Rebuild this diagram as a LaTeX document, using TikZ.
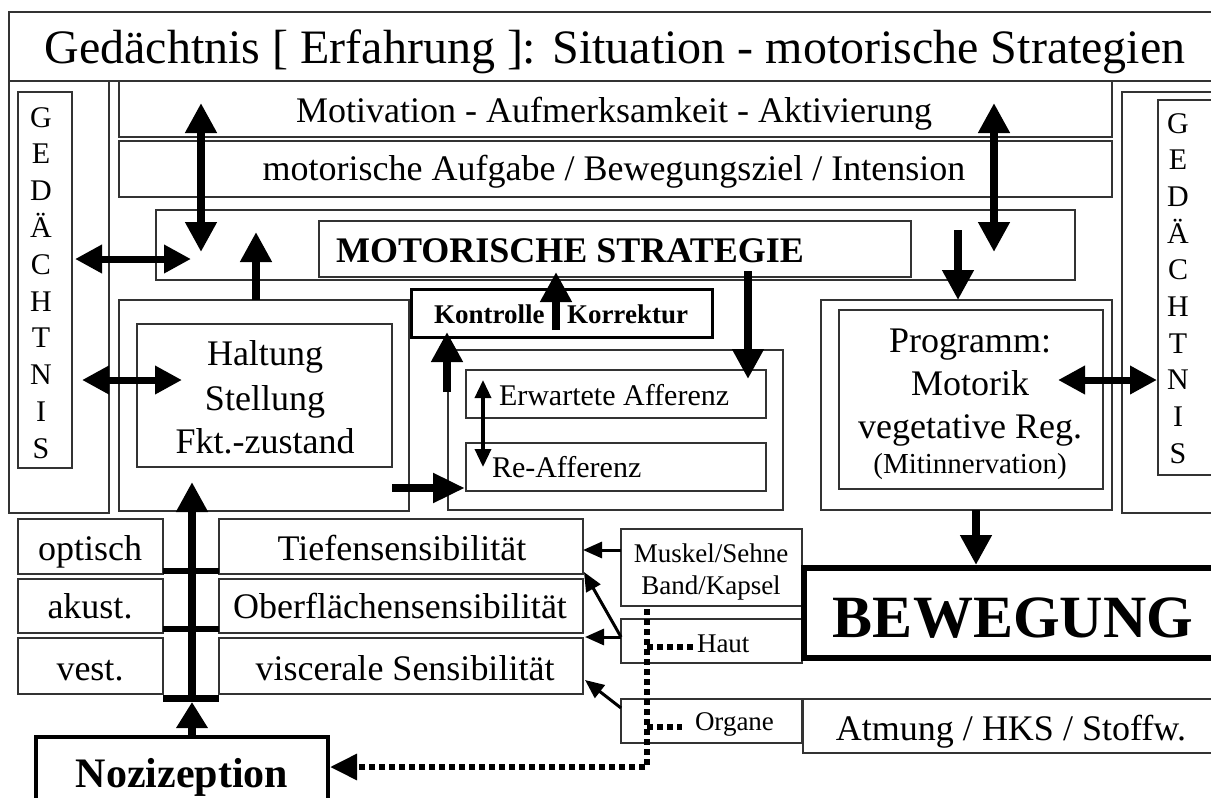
\documentclass[tikz,border=0pt]{standalone}
\usepackage{fontspec}
\setmainfont{Liberation Serif}
\usetikzlibrary{arrows.meta}
\newcommand{\myrect}[6][]{\node[box,anchor=north west,minimum width={#4pt-#2pt},minimum height={#5pt-#3pt},#1] (#6) at (#2,#3) {};}
\begin{document}
\begin{tikzpicture}[x=1pt,y=-1pt,
  box/.style={draw=black!80, line width=1.2pt, inner sep=0pt, outer sep=0pt},
  txt/.style={inner sep=0pt, outer sep=0pt, anchor=base, text=black, font=\fontsize{36}{36}\selectfont},
  big/.style={line width=8pt, -{Triangle[width=30pt,length=30pt]}},
  bigboth/.style={line width=8pt, {Triangle[width=30pt,length=30pt]}-{Triangle[width=30pt,length=30pt]}},
  hboth/.style={line width=7pt, {Triangle[width=27pt,length=27pt]}-{Triangle[width=27pt,length=27pt]}},
  medarr/.style={line width=3pt, -{Triangle[width=16pt,length=19pt]}},
  medboth/.style={line width=3.5pt, {Triangle[width=16pt,length=18pt]}-{Triangle[width=16pt,length=18pt]}},
  bar/.style={line width=6pt},
  dotline/.style={line width=6pt, dash pattern=on 6pt off 4pt}
]
\fill[white] (0,0) rectangle (1211,798);
\useasboundingbox (0,0) rectangle (1211,798);
\clip (0,0) rectangle (1211,798);

% ---------- boxes ----------
\myrect{9}{12}{1225}{81}{title}
\myrect{9}{81}{109}{513}{gedLo}
\myrect{18}{92}{72}{468}{gedL}
\myrect{119}{81}{1112}{137}{motiv}
\myrect{119}{141}{1112}{197}{aufg}
\myrect{156}{210}{1075}{280}{stratO}
\myrect{319}{221}{911}{277}{strat}
\myrect{119}{300}{409}{511}{haltO}
\myrect{137}{324}{392}{467}{halt}
\myrect{448}{350}{783}{510}{affO}
\myrect{466}{370}{766}{418}{erw}
\myrect{466}{443}{766}{491}{reaff}
\myrect[draw=black,line width=3pt]{411}{289}{712}{337}{kontr}
\myrect{821}{300}{1112}{510}{progO}
\myrect{839}{310}{1103}{489}{prog}
\myrect{1122}{92}{1225}{513}{gedRo}
\myrect{1158}{100}{1225}{475}{gedR}
\myrect{18}{519}{163}{574}{opt}
\myrect{18}{579}{163}{633}{aku}
\myrect{18}{638}{163}{694}{ves}
\myrect{219}{519}{583}{574}{tief}
\myrect{219}{579}{583}{633}{ober}
\myrect{219}{638}{583}{694}{visc}
\myrect{621}{529}{802}{606}{musk}
\myrect{621}{619}{802}{663}{haut}
\myrect{621}{699}{802}{743}{organ}
\myrect[draw=black,line width=5.5pt]{804}{568}{1230}{658}{beweg}
\myrect{803}{699}{1225}{753}{atm}
\myrect[draw=black,line width=4.5pt]{36}{737}{328}{830}{noz}

% ---------- texts ----------
\node[txt,font=\fontsize{48}{48}\selectfont] (tTitle) at (615,63) {Gedächtnis [ Erfahrung ]: Situation - motorische Strategien};
\node[txt] (tMotiv) at (614,122) {Motivation - Aufmerksamkeit - Aktivierung};
\node[txt] (tAufg) at (614,180) {motorische Aufgabe / Bewegungsziel / Intension};
\node[txt,font=\fontsize{36}{36}\bfseries\selectfont] (tStrat) at (570,262) {MOTORISCHE STRATEGIE};
\node[txt] (tHalt1) at (265,365) {Haltung};
\node[txt] (tHalt2) at (265,410) {Stellung};
\node[txt] (tHalt3) at (265,453) {Fkt.-zustand};
\node[txt,font=\fontsize{27}{27}\bfseries\selectfont] (tKontr) at (561,323) {Kontrolle - Korrektur};
\node[txt,anchor=base west,font=\fontsize{30}{30}\selectfont] (tErw) at (499,405) {Erwartete Afferenz};
\node[txt,anchor=base west,font=\fontsize{30}{30}\selectfont] (tReaff) at (492,477) {Re-Afferenz};
\node[txt] (tProg1) at (970,352) {Programm:};
\node[txt] (tProg2) at (970,395) {Motorik};
\node[txt] (tProg3) at (970,438) {vegetative Reg.};
\node[txt,font=\fontsize{29}{29}\selectfont] (tProg4) at (970,473) {(Mitinnervation)};
\foreach \ch [count=\i] in {G,E,D,Ä,C,H,T,N,I,S} {
  \node[txt,font=\fontsize{30}{30}\selectfont] (gl\i) at (41,{127+36.8*(\i-1)}) {\ch};
  \node[txt,font=\fontsize{30}{30}\selectfont] (gr\i) at (1178,{133+36.7*(\i-1)}) {\ch};
}
\node[txt] (tOpt) at (90,560) {optisch};
\node[txt] (tAku) at (90,618) {akust.};
\node[txt] (tVes) at (90,680) {vest.};
\node[txt] (tTief) at (402,560) {Tiefensensibilität};
\node[txt] (tOber) at (400,618) {Oberflächensensibilität};
\node[txt] (tVisc) at (405,680) {viscerale Sensibilität};
\node[txt,font=\fontsize{27}{27}\selectfont] (tMusk1) at (711,562) {Muskel/Sehne};
\node[txt,font=\fontsize{27}{27}\selectfont] (tMusk2) at (711,594) {Band/Kapsel};
\node[txt,anchor=base west,font=\fontsize{27}{27}\selectfont] (tHaut) at (697,652) {Haut};
\node[txt,anchor=base west,font=\fontsize{27}{27}\selectfont] (tOrgan) at (695,730) {Organe};
\node[txt,font=\fontsize{60}{60}\bfseries\selectfont] (tBeweg) at (1013,637) {BEWEGUNG};
\node[txt] (tAtm) at (1011,740) {Atmung / HKS / Stoffw.};
\node[txt,font=\fontsize{42}{42}\bfseries\selectfont] (tNoz) at (182,787) {Nozizeption};

% ---------- connector end points ----------
\coordinate (a1s) at (201,103);   \coordinate (a1e) at (201,252);
\coordinate (a2s) at (75,259);    \coordinate (a2e) at (191,259);
\coordinate (a3e) at (256,232);
\coordinate (a4s) at (556,330);   \coordinate (a4e) at (556,272);
\coordinate (a5s) at (748,271);   \coordinate (a5e) at (748,379);
\coordinate (a6s) at (447,392);   \coordinate (a6e) at (447,332);
\coordinate (a7s) at (483,380);   \coordinate (a7e) at (483,467);
\coordinate (a8s) at (392,488);   \coordinate (a8e) at (465,488);
\coordinate (a9s) at (994,103);   \coordinate (a9e) at (994,252);
\coordinate (a10s) at (958,230);
\coordinate (a11s) at (82,380);   \coordinate (a11e) at (182,380);
\coordinate (a12s) at (1058,380); \coordinate (a12e) at (1157,380);
\coordinate (a13e) at (976,565);
\coordinate (a14e) at (192,702);
\coordinate (a15s) at (192,700);  \coordinate (a15e) at (192,482);
\coordinate (m1s) at (621,550);   \coordinate (m1e) at (583,550);
\coordinate (m2s) at (621,637);   \coordinate (m2e) at (584,572);
\coordinate (m3e) at (585,637);
\coordinate (m4s) at (621,708);   \coordinate (m4e) at (585,680);
\coordinate (d0) at (647,609);    \coordinate (d1) at (647,767);
\coordinate (d2) at (330,767);
\coordinate (dh0) at (647,647);   \coordinate (dh1) at (693,647);
\coordinate (do0) at (647,727);   \coordinate (do1) at (682,727);

% ---------- bars ----------
\draw[bar] ([yshift=3pt]opt.south east) -- ([yshift=3pt]tief.south west);
\draw[bar] ([yshift=4pt]aku.south east) -- ([yshift=4pt]ober.south west);
\draw[bar,line width=7pt] ([yshift=-4pt]ves.south east) -- ([yshift=-4pt]visc.south west);

% ---------- arrows ----------
\draw[bigboth] (a1s) -- (a1e);
\draw[hboth] (a2s) -- (a2e);
\draw[big] (haltO.north -| a3e) -- (a3e);
\draw[big] (a4s) -- (a4e);
\draw[big] (a5s) -- (a5e);
\draw[big] (a6s) -- (a6e);
\draw[medboth] (a7s) -- (a7e);
\draw[big,-{Triangle[width=28pt,length=32pt]}] (a8s) -- (a8e);
\draw[bigboth] (a9s) -- (a9e);
\draw[big] (a10s) -- (progO.north -| a10s);
\draw[hboth] (a11s) -- (a11e);
\draw[hboth] (a12s) -- (a12e);
\draw[big] (progO.south -| a13e) -- (a13e);
\draw[big,-{Triangle[width=30pt,length=26pt]}] (noz.north -| a14e) -- (a14e);
\draw[big] (a15s) -- (a15e);
\draw[medarr] (m1s) -- (m1e);
\draw[medarr] (m2s) -- (m2e);
\draw[medarr] (m2s) -- (m3e);
\draw[medarr] (m4s) -- (m4e);
\draw[dotline,-{Triangle[width=25pt,length=27pt]}] (d0) -- (d1) -- (d2);
\draw[dotline] (dh0) -- (dh1);
\draw[dotline] (do0) -- (do1);
\end{tikzpicture}
\end{document}
